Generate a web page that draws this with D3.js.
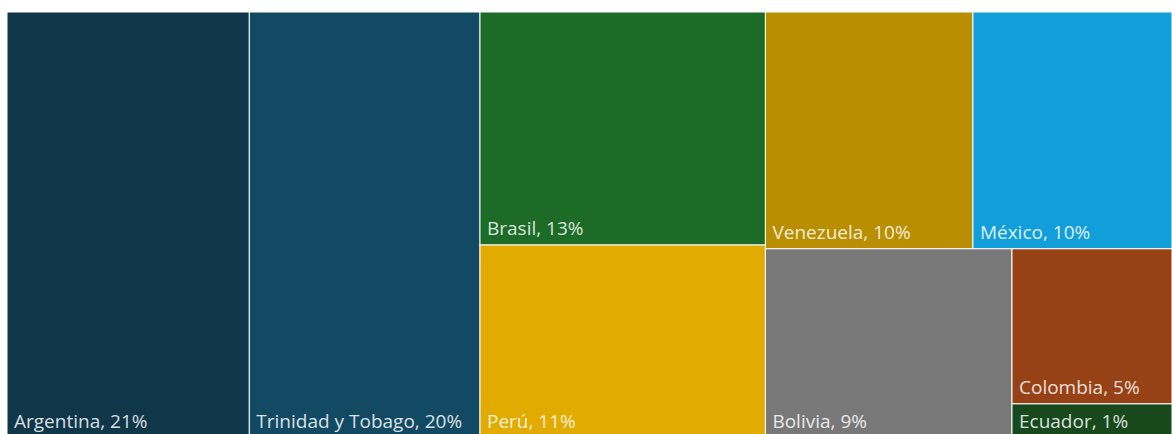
<!DOCTYPE html>
<html>
<head>
<meta charset="utf-8">
<script src="https://cdn.jsdelivr.net/npm/d3@7"></script>
<style>
  html, body { margin: 0; padding: 0; background: #fff; overflow: hidden; }
  #canvas { width: 1172px; height: 434px; }
  .label { font-family: "Open Sans", "Noto Sans", sans-serif; font-size: 19px; fill: #fff; fill-opacity: 0.85; }
</style>
</head>
<body>
<div id="canvas" class="canvas"></div>
<script>
//---- ---- DATA ---- ----
var countries = ['Argentina', 'Trinidad y Tobago', 'Brasil', 'Perú', 'Venezuela', 'México', 'Bolivia', 'Colombia', 'Ecuador'];
var shares = [20.8, 19.8, 13.4, 11.1, 9.9, 9.5, 9.4, 5.0, 1.1];
var colors = ['#10364a', '#134a63', '#1c6b27', '#e2ab00', '#b98e00', '#129fd9', '#787878', '#974216', '#17491d'];

//---- ---- MARGIN CONVENTION ---- ----
var m = {t:12, r:0, b:0, l:7};
var outerWidth = 1172,
    outerHeight = 434;
var w = outerWidth - m.l - m.r,
    h = 426; // treemap runs a little past the bottom edge of the window

//---- ---- PLOT AREA ---- ----
var plot = d3.select('.canvas')
    .append('svg')
    .attr('width', outerWidth)
    .attr('height', outerHeight)
    .append('g')
    .attr('transform', 'translate(' + m.l + ',' + m.t + ')');

//---- ---- HIERARCHY ---- ----
var rows = countries.map(function(d, i){
    return {name: d, value: shares[i], color: colors[i]};
});

var root = d3.hierarchy({children: rows})
    .sum(function(d){ return d.value || 0; })
    .sort(function(a, b){ return b.value - a.value; });

d3.treemap()
    .tile(d3.treemapSquarify.ratio(1))
    .size([w, h])
    (root);

//---- ---- CELLS ---- ----
var cell = plot.selectAll('g.cell')
    .data(root.leaves())
    .enter()
    .append('g')
    .attr('class', 'cell')
    .attr('transform', function(d){ return 'translate(' + d.x0 + ',' + d.y0 + ')'; });

cell.append('rect')
    .attr('width', function(d){ return d.x1 - d.x0; })
    .attr('height', function(d){ return d.y1 - d.y0; })
    .style('fill', function(d){ return d.data.color; })
    .style('stroke', '#fff')
    .style('stroke-width', 1);

cell.append('text')
    .attr('class', 'label')
    .attr('x', 7)
    .attr('y', function(d){ return d.y1 - d.y0 - 10; })
    .text(function(d){ return d.data.name + ', ' + Math.round(d.data.value) + '%'; });
</script>
</body>
</html>
